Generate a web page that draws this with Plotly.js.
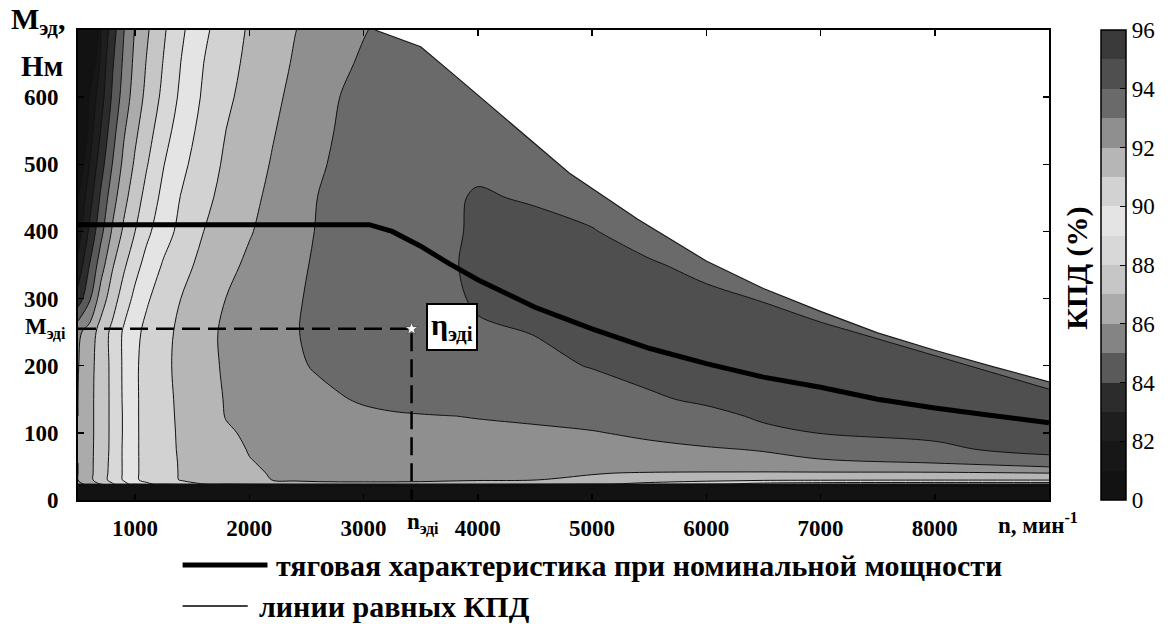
<!DOCTYPE html>
<html>
<head>
<meta charset="utf-8">
<script src="https://cdn.plot.ly/plotly-3.0.1.min.js"></script>
<style>
html,body{margin:0;padding:0;background:#fff;}
#chart{width:1175px;height:624px;}
</style>
</head>
<body>
<div id="chart"></div>
<script>
// ---------- data ----------
const speedN = [500, 600, 700, 800, 900, 1000, 1100, 1250, 1400, 1600, 1800, 2000, 2200, 2400, 2600, 2800, 3000, 3250, 3500, 3750, 4000, 4500, 5000, 5500, 6000, 6500, 7000, 8000, 9000];
const torqueM = [0, 18, 24, 30, 40, 55, 75, 100, 125, 150, 200, 250, 300, 350, 400, 450, 500, 550, 600, 650, 700];
// efficiency, %, one row per torque value
const eff0   = [0,0,0,0,0,0,0,0,0,0,0,0,0,0,0,0,0,0,0,0,0,0,0,0,0,0,0,0,0];
const eff18  = [75,75,75,75,75,75,75,75,75,75,75,75,75,75,75,75,75,75,75,75,75,75,75,75,75,75,75,75,75];
const eff24  = [85.6,86.5,87.1,87.9,88.7,89.4,89.85,90.3,90.7,91.0,91.25,91.5,91.7,91.85,91.9,91.9,91.9,91.9,91.9,91.85,91.8,91.6,91.2,90.7,90.2,89.7,89.5,89.4,89.4];
const eff30  = [86.0,86.75,87.55,88.33,89.1,89.88,90.24,90.68,91.05,91.29,91.54,91.78,92.01,92.06,92.08,92.1,92.1,92.1,92.08,92.06,92.04,92.01,91.9,91.6,91.4,91.2,91.15,91.1,91.1];
const eff40  = [86.0,86.75,87.52,88.3,89.11,89.88,90.25,90.7,91.06,91.33,91.6,91.87,92.05,92.12,92.17,92.2,92.22,92.22,92.22,92.2,92.17,92.1,92.03,91.95,91.92,91.9,91.9,91.9,92.0];
const eff55  = [86.0,86.75,87.5,88.27,89.12,89.88,90.25,90.7,91.07,91.37,91.66,91.96,92.1,92.2,92.27,92.33,92.38,92.42,92.46,92.5,92.52,92.55,92.55,92.55,92.6,92.7,92.85,93.0,93.6];
const eff75  = [86.05,86.75,87.46,88.23,89.13,89.88,90.26,90.72,91.1,91.43,91.75,92.04,92.15,92.25,92.33,92.4,92.45,92.5,92.55,92.6,92.63,92.7,92.75,92.8,92.9,93.05,93.35,93.85,94.25];
const eff100 = [86.05,86.75,87.42,88.23,89.1,89.88,90.26,90.73,91.12,91.51,91.9,92.12,92.25,92.37,92.47,92.56,92.63,92.7,92.75,92.8,92.85,92.9,92.95,93.15,93.45,93.85,94.02,94.15,94.3];
const eff125 = [86.0,86.75,87.42,88.23,89.1,89.88,90.27,90.74,91.15,91.6,92.04,92.2,92.35,92.5,92.62,92.73,92.82,92.9,92.95,92.99,93.03,93.1,93.3,93.6,93.8,94.1,94.2,94.3,94.35];
const eff150 = [86.0,86.75,87.42,88.23,89.13,89.88,90.27,90.75,91.18,91.67,92.06,92.24,92.41,92.59,92.76,92.94,93.1,93.25,93.35,93.45,93.5,93.6,93.7,93.9,94.12,94.3,94.35,94.4,94.3];
const eff200 = [85.95,86.7,87.42,88.24,89.15,89.88,90.28,90.78,91.25,91.73,92.12,92.36,92.61,92.86,93.1,93.3,93.45,93.55,93.62,93.7,93.75,93.85,94.03,94.25,94.4,94.5,94.5,94.3,93.3];
const eff250 = [85.8,86.41,87.42,88.25,89.13,89.77,90.22,90.73,91.2,91.75,92.15,92.41,92.68,92.95,93.2,93.4,93.55,93.65,93.75,93.85,93.9,94.02,94.45,94.6,94.6,94.4,94.3,93.3,93.3];
const eff300 = [83.4,84.83,86.47,87.52,88.48,89.25,89.88,90.46,91.0,91.51,92.02,92.32,92.62,92.92,93.15,93.35,93.5,93.6,93.7,93.85,94.1,94.45,94.5,94.45,94.2,93.95,93.3,93.3,93.3];
const eff350 = [82.3,84.0,85.54,86.88,87.82,88.67,89.33,90.11,90.67,91.27,91.76,92.17,92.51,92.85,93.1,93.3,93.45,93.6,93.75,93.9,94.2,94.4,94.35,94.1,93.75,93.3,93.3,93.3,93.3];
const eff400 = [81.5,83.17,84.71,86.11,87.17,88.0,88.77,89.6,90.26,91.0,91.47,91.93,92.33,92.73,93.05,93.25,93.4,93.55,93.7,93.85,94.15,94.3,94.05,93.6,93.3,93.3,93.3,93.3,93.3];
const eff450 = [81.0,82.56,84.17,85.56,86.69,87.56,88.33,89.29,90.04,90.76,91.31,91.77,92.2,92.61,93.01,93.2,93.35,93.5,93.65,93.85,94.1,93.9,93.65,93.3,93.3,93.3,93.3,93.3,93.3];
const eff500 = [80.0,82.0,83.58,85.0,86.24,87.15,87.92,88.97,89.74,90.54,91.16,91.61,92.06,92.48,92.9,93.15,93.35,93.5,93.6,93.7,93.8,93.7,93.3,93.3,93.3,93.3,93.3,93.3,93.3];
const eff550 = [78.0,81.5,83.03,84.57,85.87,86.8,87.57,88.6,89.46,90.33,91.02,91.48,91.93,92.35,92.76,93.1,93.3,93.45,93.55,93.6,93.65,93.3,93.3,93.3,93.3,93.3,93.3,93.3,93.3];
const eff600 = [76.0,81.2,82.57,84.13,85.44,86.46,87.24,88.26,89.18,90.14,90.83,91.34,91.8,92.22,92.62,93.02,93.2,93.35,93.45,93.5,93.3,93.3,93.3,93.3,93.3,93.3,93.3,93.3,93.3];
const eff650 = [74.0,79.5,82.29,83.86,85.18,86.26,87.05,88.06,89.01,90.0,90.67,91.22,91.67,92.09,92.44,92.8,93.15,93.35,93.4,93.3,93.3,93.3,93.3,93.3,93.3,93.3,93.3,93.3,93.3];
const eff700 = [72.0,77.0,82.0,83.5,84.95,86.08,86.85,87.87,88.81,89.81,90.52,91.11,91.54,91.98,92.3,92.62,92.94,93.3,93.3,93.3,93.3,93.3,93.3,93.3,93.3,93.3,93.3,93.3,93.3];
const efficiency = [eff0, eff18, eff24, eff30, eff40, eff55, eff75, eff100, eff125, eff150, eff200, eff250, eff300, eff350, eff400, eff450, eff500, eff550, eff600, eff650, eff700];

// limit of the operating area (edge of the white zone)
const envelopeN = [3100, 3500, 3800, 4300, 4800, 5400, 6000, 6500, 7000, 7500, 8000, 8500, 9000];
const envelopeM = [700, 675, 632, 560, 487, 418, 356, 315, 281, 249, 223, 199, 176];

// traction characteristic at rated power
const tractionN = [500, 3050, 3250, 3500, 3750, 4000, 4500, 5000, 5500, 6000, 6500, 7000, 7500, 8000, 8500, 9000];
const tractionM = [410, 410, 400, 378, 352, 328, 287, 255, 226, 203, 183, 168, 150, 137, 126, 115];

// operating point
const pointN = 3420;
const pointM = 255;

const xTicks = [1000, 2000, 3000, 4000, 5000, 6000, 7000, 8000];
const yTicks = [0, 100, 200, 300, 400, 500, 600];
const barTicks = [80, 82, 84, 86, 88, 90, 92, 94, 96];
const barTickText = ['0', '82', '84', '86', '88', '90', '92', '94', '96'];
const bandLevels = [80, 81, 82, 83, 84, 85, 86, 87, 88, 89, 90, 91, 92, 93, 94, 95];
const bandColors = ['#121212','#171717','#1e1e1e','#2c2c2c','#5a5a5a','#848484','#ababab','#c6c6c6',
                    '#d8d8d8','#e4e4e4','#d2d2d2','#b6b6b6','#8f8f8f','#6a6a6a','#4f4f4f','#3a3a3a'];

// ---------- layout helpers ----------
const X_RANGE = [500, 9000];
const Y_RANGE = [0, 700];
const PLOT = {l: 78, r: 1062, t: 30, b: 500};
const xp = px => (px - PLOT.l) / (PLOT.r - PLOT.l);
const yp = py => (PLOT.b - py) / (PLOT.b - PLOT.t);
const SERIF = '"Liberation Serif", "Times New Roman", serif';

// contour fill colour map: band a is sampled at (a-80)/15
const contourScale = bandLevels.map((a, i) => [(a - 80) / 15, bandColors[i]]);
// colour bar: crisp steps over [80, 96]
const barScale = [];
bandLevels.forEach((a, i) => {
  barScale.push([(a - 80) / 16, bandColors[i]]);
  barScale.push([(a + 1 - 80) / 16, bandColors[i]]);
});

const traces = [
  {
    type: 'contour',
    x: speedN, y: torqueM, z: efficiency,
    autocontour: false,
    contours: {start: 81, end: 95, size: 1, coloring: 'fill', showlines: true},
    colorscale: contourScale,
    line: {color: '#111', width: 1, smoothing: 1},
    showscale: false,
    hoverinfo: 'skip'
  },
  { // white area outside the operating limit
    type: 'scatter', mode: 'lines',
    x: envelopeN.concat([X_RANGE[1] * 1.02, X_RANGE[1] * 1.02, envelopeN[0]]),
    y: envelopeM.concat([envelopeM[envelopeM.length - 1], Y_RANGE[1] * 1.02, Y_RANGE[1] * 1.02]),
    fill: 'toself', fillcolor: '#ffffff', line: {width: 0, color: '#fff'},
    showlegend: false, hoverinfo: 'skip'
  },
  {
    type: 'scatter', mode: 'lines', x: envelopeN, y: envelopeM,
    line: {color: '#1a1a1a', width: 1.2}, showlegend: false, hoverinfo: 'skip'
  },
  {
    type: 'scatter', mode: 'lines', x: tractionN, y: tractionM,
    line: {color: '#000', width: 5}, showlegend: false, hoverinfo: 'skip'
  },
  {
    type: 'scatter', mode: 'lines',
    x: [X_RANGE[0], pointN, pointN], y: [pointM, pointM, Y_RANGE[0]],
    line: {color: '#000', width: 2.5, dash: '18px,8px'}, showlegend: false, hoverinfo: 'skip'
  },
  {
    type: 'scatter', mode: 'markers', x: [pointN], y: [pointM],
    marker: {symbol: 'star', size: 10, color: '#fff', line: {color: '#555', width: 1}},
    showlegend: false, hoverinfo: 'skip'
  },
  { // carrier of the colour bar
    type: 'scatter', mode: 'markers', x: [null, null], y: [null, null],
    marker: {
      color: [80, 96], cmin: 80, cmax: 96, colorscale: barScale, showscale: true,
      colorbar: {
        x: xp(1115), xanchor: 'left', xref: 'paper',
        y: 0.5, yanchor: 'middle', yref: 'paper', len: 1, lenmode: 'fraction',
        thickness: 25, thicknessmode: 'pixels', xpad: 0, ypad: 0,
        outlinewidth: 1.5, outlinecolor: '#000', borderwidth: 0,
        tickvals: barTicks, ticktext: barTickText,
        ticks: 'inside', ticklen: 6, tickcolor: '#000',
        tickfont: {family: SERIF, size: 23, color: '#000'}
      }
    },
    showlegend: false, hoverinfo: 'skip'
  }
];

const boldFont = (size) => ({family: SERIF, size: size, color: '#000', weight: 'bold'});
const ann = (text, px, py, extra) => Object.assign({
  text: text, xref: 'paper', yref: 'paper', x: xp(px), y: yp(py),
  showarrow: false, font: boldFont(22), xanchor: 'center', yanchor: 'middle'
}, extra || {});

const layout = {
  width: 1175, height: 624,
  margin: {l: PLOT.l, r: 1175 - PLOT.r, t: PLOT.t, b: 624 - PLOT.b, pad: 0},
  paper_bgcolor: '#fff', plot_bgcolor: '#fff',
  font: {family: SERIF, color: '#000'},
  showlegend: false,
  xaxis: {
    range: X_RANGE, tickvals: xTicks, ticktext: xTicks.map(String),
    ticks: 'inside', ticklen: 6, tickwidth: 1.5, tickcolor: '#000',
    mirror: 'ticks', showline: true, linewidth: 2, linecolor: '#000',
    showgrid: false, zeroline: false, ticklabelstandoff: 6,
    tickfont: boldFont(23)
  },
  yaxis: {
    range: Y_RANGE, tickvals: yTicks, ticktext: yTicks.map(String),
    ticks: 'inside', ticklen: 6, tickwidth: 1.5, tickcolor: '#000',
    mirror: 'ticks', showline: true, linewidth: 2, linecolor: '#000',
    showgrid: false, zeroline: false, ticklabelstandoff: 13,
    tickfont: boldFont(23)
  },
  shapes: [
    {type: 'line', xref: 'paper', yref: 'paper', x0: xp(184), x1: xp(270), y0: yp(565), y1: yp(565),
     line: {color: '#000', width: 5}},
    {type: 'line', xref: 'paper', yref: 'paper', x0: xp(184), x1: xp(250), y0: yp(606), y1: yp(606),
     line: {color: '#000', width: 1.5}}
  ],
  annotations: [
    ann('М<sub>эд</sub>,', 8, 21, {xanchor: 'left', font: boldFont(30)}),
    ann('Нм', 42, 66, {font: boldFont(29)}),
    ann('М<sub>эдi</sub>', 68, 328, {xanchor: 'right', font: boldFont(23)}),
    ann('n<sub>эдi</sub>', 428, 523, {font: boldFont(23)}),
    ann('n, мин<sup>-1</sup>', 1008, 523, {xanchor: 'left', font: boldFont(23)}),
    {text: 'η<sub>эдi</sub>', xref: 'x', yref: 'y', x: pointN, y: pointM, xshift: 14, yshift: 2,
     xanchor: 'left', yanchor: 'middle', showarrow: false,
     bordercolor: '#000', borderwidth: 2, borderpad: 3, bgcolor: '#fff',
     font: boldFont(30)},
    ann('КПД (%)', 1090, 268, {textangle: -90, font: boldFont(30)}),
    ann('тяговая характеристика при номинальной мощности', 277, 565, {xanchor: 'left', font: boldFont(30)}),
    ann('линии равных КПД', 259, 606, {xanchor: 'left', font: boldFont(30)})
  ]
};

Plotly.newPlot('chart', traces, layout, {displayModeBar: false, staticPlot: true});
</script>
</body>
</html>
